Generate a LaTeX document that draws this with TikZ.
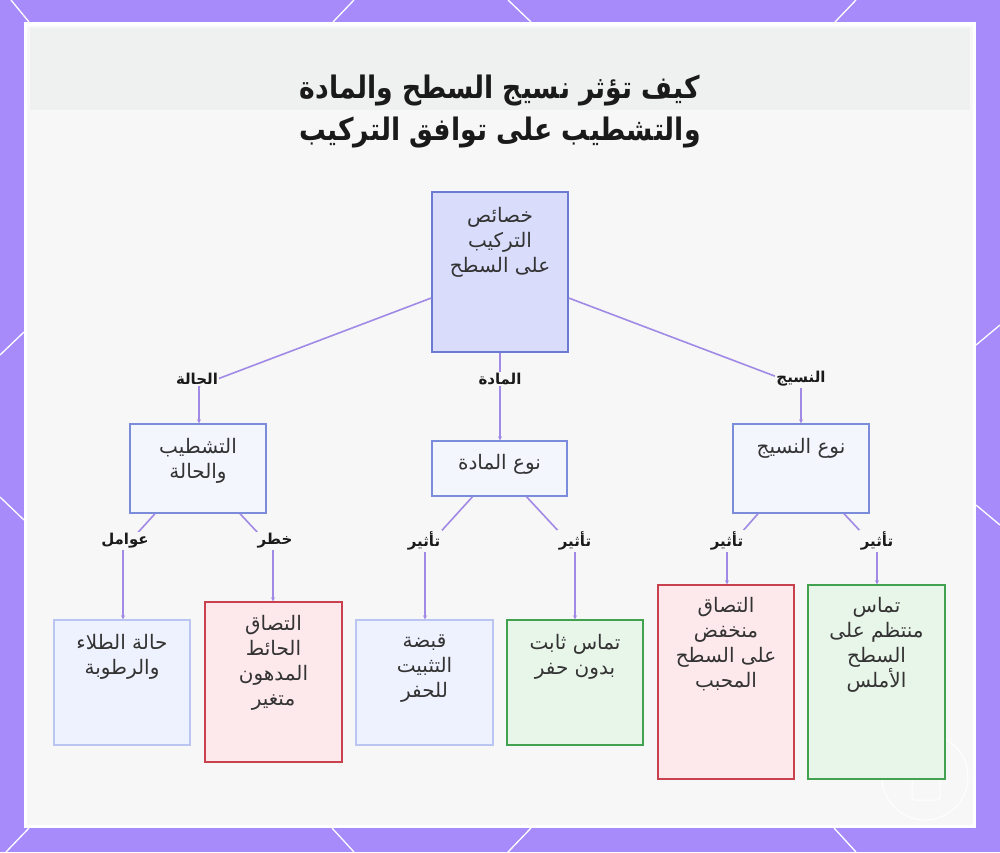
\documentclass[tikz,border=0pt]{standalone}
\usepackage{fontspec}
\setmainfont{DejaVu Sans}
\newfontfamily\arabicfont[Script=Arabic]{DejaVu Sans}
\TeXXeTstate=1
\usetikzlibrary{arrows.meta,calc}
\newcommand\artxt[1]{\beginR #1\endR}
\definecolor{bordercol}{HTML}{A78BFA}
\definecolor{panelbg}{HTML}{F7F7F7}
\definecolor{bandcol}{HTML}{EFF0F0}
\definecolor{edgecol}{HTML}{A08AE6}
\definecolor{rootfill}{HTML}{D9DCFB}
\definecolor{rootdraw}{HTML}{6B7BD1}
\definecolor{midfill}{HTML}{F4F6FE}
\definecolor{middraw}{HTML}{7B8CDA}
\definecolor{leaffill}{HTML}{EEF1FE}
\definecolor{leafdraw}{HTML}{BAC5F2}
\definecolor{riskfill}{HTML}{FDE9EC}
\definecolor{riskdraw}{HTML}{C9404E}
\definecolor{goodfill}{HTML}{E8F5E9}
\definecolor{gooddraw}{HTML}{43A24F}
\definecolor{textcol}{HTML}{333333}
\definecolor{labelcol}{HTML}{1A1A1A}
\tikzset{
  box/.style={draw, line width=1.4pt, inner sep=0pt, rectangle},
  mainbox/.style={box, draw=rootdraw, fill=rootfill},
  midbox/.style={box, draw=middraw, fill=midfill},
  leafbox/.style={box, draw=leafdraw, fill=leaffill},
  riskbox/.style={box, draw=riskdraw, fill=riskfill},
  goodbox/.style={box, draw=gooddraw, fill=goodfill},
  boxtext/.style={anchor=north, align=center, font=\arabicfont\fontsize{20}{25}\selectfont, text=textcol, inner sep=0pt},
  edgelabel/.style={font=\arabicfont\bfseries\fontsize{15}{17}\selectfont, fill=panelbg, inner sep=1.5pt, text=labelcol},
  conn/.style={draw=edgecol, line width=1.6pt, -{Stealth[length=4pt,width=4pt]}},
  deco/.style={draw=white, line width=1.3pt},
}
\begin{document}
\begin{tikzpicture}[x=1pt,y=-1pt]
\useasboundingbox (0,0) rectangle (1000,852);
% frame
\fill[bordercol] (0,0) rectangle (1000,852);
\draw[deco] (11,0) -- (29,22);
\draw[deco] (354,0) -- (333,22);
\draw[deco] (508,0) -- (531,22);
\draw[deco] (856,0) -- (835,22);
\draw[deco] (29,828) -- (6,852);
\draw[deco] (332,828) -- (354,852);
\draw[deco] (531,828) -- (508,852);
\draw[deco] (834,828) -- (856,852);
\draw[deco] (0,355) -- (24,332);
\draw[deco] (0,497) -- (24,520);
\draw[deco] (976,345) -- (1000,325);
\draw[deco] (976,505) -- (1000,525);
\fill[white] (24,22) rectangle (976,828);
\fill[panelbg] (27,26) rectangle (973,825);
\fill[bandcol] (30,28) rectangle (970,110);
% watermark
\draw[white, line width=1pt] (925,777) circle (43);
\draw[white, line width=1pt, rounded corners=3pt] (912,756) rectangle (940,800);

% title
\node[font=\arabicfont\bfseries\fontsize{31}{42}\selectfont, text=labelcol, align=center] (title) at (500,112)
  {\scalebox{0.86}[1]{\artxt{كيف تؤثر نسيج السطح والمادة}}\\\scalebox{0.86}[1]{\artxt{والتشطيب على توافق التركيب}}};

% boxes
\node[mainbox, minimum width=136pt, minimum height=160pt] (root) at (500,272) {};
\node[midbox, minimum width=136pt, minimum height=89pt] (fin) at (198,468.5) {};
\node[midbox, minimum width=135pt, minimum height=55pt] (mat) at (499.5,468.5) {};
\node[midbox, minimum width=136pt, minimum height=89pt] (tex) at (801,468.5) {};
\node[leafbox, minimum width=136pt, minimum height=125pt] (paint) at (122,682.5) {};
\node[riskbox, minimum width=137pt, minimum height=160pt] (wall) at (273.5,682) {};
\node[leafbox, minimum width=137pt, minimum height=125pt] (grip) at (424.5,682.5) {};
\node[goodbox, minimum width=136pt, minimum height=125pt] (stable) at (575,682.5) {};
\node[riskbox, minimum width=136pt, minimum height=194pt] (rough) at (726,682) {};
\node[goodbox, minimum width=137pt, minimum height=194pt] (smooth) at (876.5,682) {};

% box texts
\node[boxtext] (roott) at ($(root.north)+(0,16)$) {\artxt{خصائص}\\\artxt{التركيب}\\\artxt{على السطح}};
\node[boxtext] (fint) at ($(fin.north)+(0,15)$) {\artxt{التشطيب}\\\artxt{والحالة}};
\node[boxtext] (matt) at ($(mat.north)+(0,14)$) {\artxt{نوع المادة}};
\node[boxtext] (text) at ($(tex.north)+(0,15)$) {\artxt{نوع النسيج}};
\node[boxtext] (paintt) at ($(paint.north)+(0,15)$) {\artxt{حالة الطلاء}\\\artxt{والرطوبة}};
\node[boxtext] (wallt) at ($(wall.north)+(0,14)$) {\artxt{التصاق}\\\artxt{الحائط}\\\artxt{المدهون}\\\artxt{متغير}};
\node[boxtext] (gript) at ($(grip.north)+(0,15)$) {\artxt{قبضة}\\\artxt{التثبيت}\\\artxt{للحفر}};
\node[boxtext] (stablet) at ($(stable.north)+(0,15)$) {\artxt{تماس ثابت}\\\artxt{بدون حفر}};
\node[boxtext] (rought) at ($(rough.north)+(0,13)$) {\artxt{التصاق}\\\artxt{منخفض}\\\artxt{على السطح}\\\artxt{المحبب}};
\node[boxtext] (smootht) at ($(smooth.north)+(0,13)$) {\artxt{تماس}\\\artxt{منتظم على}\\\artxt{السطح}\\\artxt{الأملس}};

% bend points
\coordinate (bA) at (199,386);
\coordinate (bC) at (801,386);
\coordinate (bA1) at (123,549);
\coordinate (bA2) at (273,549);
\coordinate (bB1) at (425,549);
\coordinate (bB2) at (575,549);
\coordinate (bC1) at (727,549);
\coordinate (bC2) at (877,549);

% connectors
\draw[conn] ([yshift=-26pt]root.west) -- (bA) -- (bA |- fin.north);
\draw[conn] (root.south) -- (root.south |- mat.north);
\draw[conn] ([yshift=-26pt]root.east) -- (bC) -- (bC |- tex.north);
\draw[conn] ([xshift=-43pt]fin.south) -- (bA1) -- (bA1 |- paint.north);
\draw[conn] ([xshift=42pt]fin.south) -- (bA2) -- (bA2 |- wall.north);
\draw[conn] ([xshift=-27pt]mat.south) -- (bB1) -- (bB1 |- grip.north);
\draw[conn] ([xshift=27pt]mat.south) -- (bB2) -- (bB2 |- stable.north);
\draw[conn] ([xshift=-43pt]tex.south) -- (bC1) -- (bC1 |- rough.north);
\draw[conn] ([xshift=43pt]tex.south) -- (bC2) -- (bC2 |- smooth.north);

% edge labels
\node[edgelabel] (lA) at (197,379) {\artxt{الحالة}};
\node[edgelabel] (lB) at (500,379) {\artxt{المادة}};
\node[edgelabel] (lC) at (801,379) {\artxt{النسيج}};
\node[edgelabel] (lA1) at (125,541) {\artxt{عوامل}};
\node[edgelabel] (lA2) at (275,541) {\artxt{خطر}};
\node[edgelabel] (lB1) at (424,541) {\artxt{تأثير}};
\node[edgelabel] (lB2) at (575,541) {\artxt{تأثير}};
\node[edgelabel] (lC1) at (727,541) {\artxt{تأثير}};
\node[edgelabel] (lC2) at (877,541) {\artxt{تأثير}};
\end{tikzpicture}
\end{document}
